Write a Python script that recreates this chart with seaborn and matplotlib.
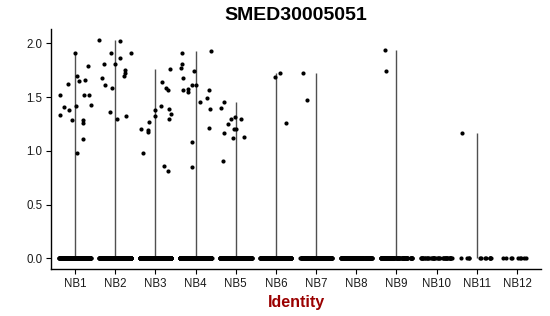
import numpy as np
import pandas as pd
import matplotlib
matplotlib.use("Agg")
import matplotlib.pyplot as plt
import seaborn as sns

title = "SMED30005051"
x_label = "Identity"
categories = ["NB1", "NB2", "NB3", "NB4", "NB5", "NB6",
              "NB7", "NB8", "NB9", "NB10", "NB11", "NB12"]

# number of cells with zero expression in each identity (estimated)
zero_counts = [320, 320, 300, 300, 280, 200, 160, 140, 110, 40, 12, 9]

# non-zero expression values per identity
nb1 = [1.656, 1.907, 1.786, 1.290, 1.286, 1.696, 1.646, 1.624, 1.516, 1.516,
       1.407, 1.416, 1.423, 1.516, 1.380, 1.262, 1.333, 1.110, 0.977]
nb2 = [1.612, 1.581, 1.907, 1.907, 2.034, 2.019, 1.810, 1.810, 1.866, 1.721,
       1.699, 1.674, 1.755, 1.361, 1.321, 1.299]
nb3 = [1.386, 1.380, 1.340, 1.190, 1.206, 1.566, 1.265, 1.299, 1.321, 1.637,
       0.977, 1.175, 1.417, 1.764, 1.581, 0.815, 0.859]
nb4 = [1.609, 1.615, 1.575, 1.488, 1.457, 1.563, 0.852, 1.928, 1.544, 1.674,
       1.804, 1.913, 1.773, 1.742, 1.566, 1.386, 1.215, 1.082]
nb5 = [1.203, 1.163, 1.296, 1.126, 1.206, 1.312, 1.457, 1.398, 1.252, 1.116,
       0.908, 1.299]
nb6 = [1.687, 1.721, 1.259]
nb7 = [1.473, 1.727]
nb8 = []
nb9 = [1.935, 1.742]
nb10 = []
nb11 = [1.163]
nb12 = []
nonzero = [nb1, nb2, nb3, nb4, nb5, nb6, nb7, nb8, nb9, nb10, nb11, nb12]

rows = []
for cat, nz, vals in zip(categories, zero_counts, nonzero):
    for v in [0.0] * nz + list(vals):
        rows.append((cat, v))
df = pd.DataFrame(rows, columns=["ident", "expr"])

sns.set_theme(style="ticks")
plt.rcParams["font.family"] = ["Liberation Sans", "DejaVu Sans"]

fig = plt.figure(figsize=(5.5, 3.16), dpi=100)
ax = fig.add_axes([0.0925, 0.148, 0.8913, 0.761])

# thin (degenerate) violins: span from min to max of each identity
maxes = df.groupby("ident", sort=False)["expr"].max().reindex(categories)
for i, cat in enumerate(categories):
    m = maxes[cat]
    if m > 0:
        ax.vlines(i, 0, m, color="#505050", lw=1.0, zorder=1)

np.random.seed(3)
sns.stripplot(data=df, x="ident", y="expr", order=categories, jitter=0.4,
              color="black", size=3.0, linewidth=0, ax=ax, zorder=2)

ax.set_xlim(-0.6, 11.6)
ax.set_ylim(-0.1017, 2.136)
ax.set_yticks([0.0, 0.5, 1.0, 1.5, 2.0])
ax.set_yticklabels(["0.0", "0.5", "1.0", "1.5", "2.0"])
ax.set_ylabel("")
ax.set_xlabel(x_label, fontsize=11.5, fontweight="bold", color="#9a0000", labelpad=4)
ax.set_title(title, fontsize=14, fontweight="bold", pad=6, color="black")

for s in ["top", "right"]:
    ax.spines[s].set_visible(False)
for s in ["left", "bottom"]:
    ax.spines[s].set_color("black")
    ax.spines[s].set_linewidth(1.0)
ax.tick_params(axis="both", length=3.5, width=0.8, color="black",
               labelsize=8.3, labelcolor="#1a1a1a", pad=2.5)

fig.savefig("out.png", dpi=100)
